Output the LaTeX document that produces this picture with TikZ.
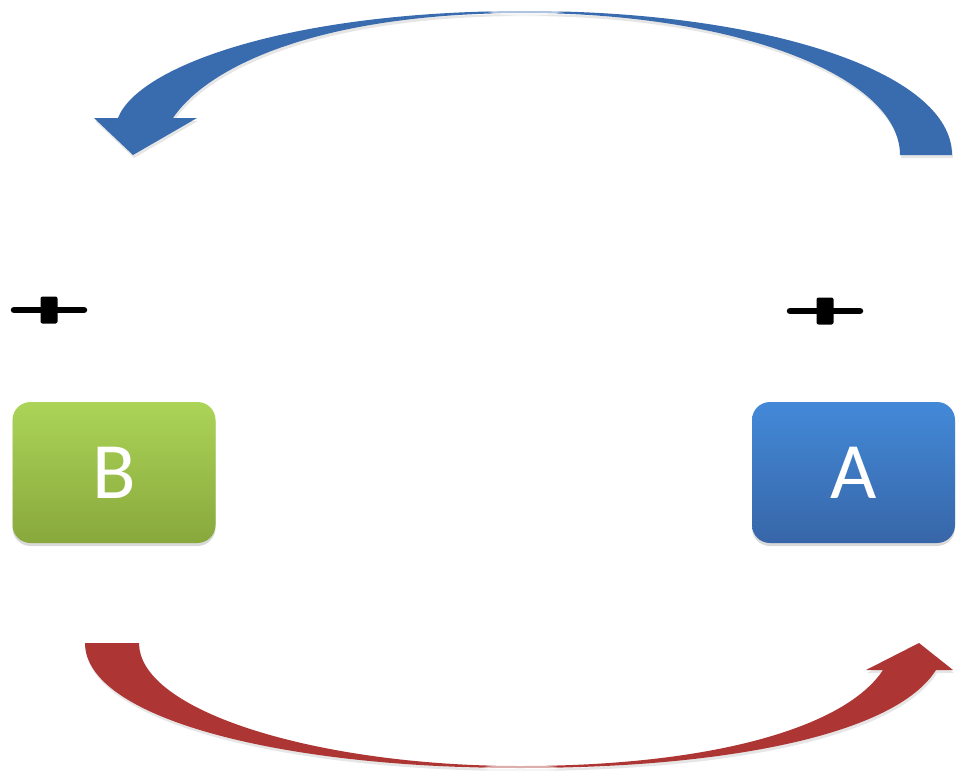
\documentclass[tikz,border=0pt]{standalone}
\usepackage{fontspec}
\setmainfont{Carlito}
\usetikzlibrary{shadows,fadings}

\definecolor{loopblue}{RGB}{57,108,174}
\definecolor{loopred}{RGB}{173,54,52}
\definecolor{greentop}{RGB}{172,212,88}
\definecolor{greenbot}{RGB}{136,168,60}
\definecolor{bluetop}{RGB}{67,137,216}
\definecolor{bluebot}{RGB}{55,102,168}

\begin{document}
\begin{tikzpicture}[x=1pt, y=-1pt,
	varbox/.style={rounded corners=18pt, minimum width=203pt, minimum height=141pt,
		inner sep=0pt, text=white, font=\fontsize{80}{80}\selectfont,
		drop shadow={opacity=0.3, shadow xshift=0pt, shadow yshift=-3pt}},
	bigarrow/.style={drop shadow={opacity=0.2, shadow xshift=1pt, shadow yshift=-3pt}},
	signbar/.style={line width=6.5pt, line cap=round},
	glow/.style={white, opacity=0.6, path fading=circle with fuzzy edge 20 percent}]
	\useasboundingbox (0,0) rectangle (956,776);

	% the two variables
	\node[varbox, top color=greentop, bottom color=greenbot] (boxB) at (114,472.5) {B};
	\node[varbox, top color=bluetop, bottom color=bluebot]   (boxA) at (853.5,472.5) {A};

	% plus signs
	\coordinate (plusB) at (49,310);
	\coordinate (plusA) at (825,311);
	\foreach \p in {plusB, plusA} {
		\draw[signbar] ([xshift=-35pt]\p) -- ([xshift=35pt]\p);
		\fill[rounded corners=2pt] ([shift={(-8.5pt,-13.5pt)}]\p) rectangle ([shift={(8.5pt,13.5pt)}]\p);
	}

	% upper loop, A to B
	\coordinate (upTailIn)  at (900,155);
	\coordinate (upTailOut) at (952,155);
	\coordinate (upPeak)    at (525,11);
	\coordinate (upPeakIn)  at (525,13);
	\coordinate (upBaseOut) at (118,118);
	\coordinate (upBaseIn)  at (173,118);
	\coordinate (upHeadL)   at (94,118);
	\coordinate (upHeadR)   at (197,118);
	\coordinate (upTip)     at (133,155);
	\fill[loopblue, bigarrow] (upTailIn) -- (upTailOut)
		.. controls (952,72) and (765,11) .. (upPeak)
		.. controls (290,11) and (138,66) .. (upBaseOut)
		-- (upHeadL) -- (upTip) -- (upHeadR) -- (upBaseIn)
		.. controls (208,66) and (320,13) .. (upPeakIn)
		.. controls (735,13) and (900,76) .. (upTailIn) -- cycle;
	\fill[glow] (upPeak) ellipse (40 and 5);

	% lower loop, B to A
	\coordinate (loTailOut) at (85,643);
	\coordinate (loTailIn)  at (139,643);
	\coordinate (loLow)     at (520,768);
	\coordinate (loLowIn)   at (520,766);
	\coordinate (loBaseOut) at (936,670);
	\coordinate (loBaseIn)  at (883,670);
	\coordinate (loHeadL)   at (866,670);
	\coordinate (loHeadR)   at (953,670);
	\coordinate (loTip)     at (919,643);
	\fill[loopred, bigarrow] (loTailOut)
		.. controls (85,718) and (280,768) .. (loLow)
		.. controls (725,768) and (895,735) .. (loBaseOut)
		-- (loHeadR) -- (loTip) -- (loHeadL) -- (loBaseIn)
		.. controls (845,728) and (710,766) .. (loLowIn)
		.. controls (320,766) and (139,712) .. (loTailIn) -- cycle;
	\fill[glow] (loLow) ellipse (40 and 5);
\end{tikzpicture}
\end{document}
